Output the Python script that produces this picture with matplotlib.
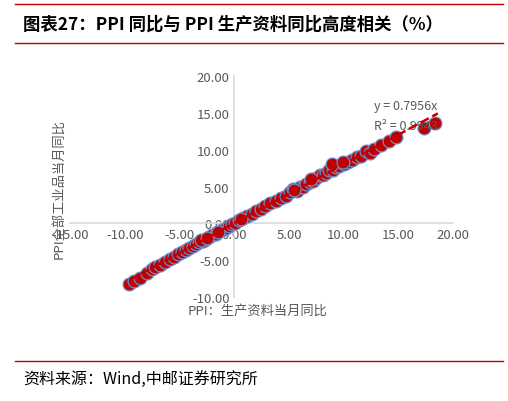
import matplotlib
matplotlib.use("Agg")
import matplotlib.pyplot as plt
import numpy as np

plt.rcParams['font.family'] = ['Noto Sans CJK SC', 'DejaVu Sans']

# PPI producer goods YoY (x) vs PPI all industrial YoY (y)
ppi_prod = [-9.6, -9.2, -8.6, -8.0, -7.5, -7.2, -6.8, -6.3, -5.9, -5.5, -5.1, -4.8,
            -4.4, -4.1, -3.8, -3.5, -3.2, -2.9, -2.6, -2.3, -2.0, -1.7, -1.4, -1.1,
            -0.8, -0.5, -0.2, 0.1, 0.4, 0.8, 1.2, 1.6, 2.0, 2.4, 2.8, 3.3, 3.8, 4.3,
            4.7, 5.1, 5.4, 5.7, 6.0, 6.3, 6.6, 6.9, 7.2, 7.5, 7.8, 8.1, 8.4, 8.7,
            9.0, 9.3, 9.6, 10.0, 10.4, 10.8, 11.2, 11.6, 12.0, 12.4, 12.8, 13.4,
            14.1, 14.8, 17.3, 18.3, -3.0, -2.5, -1.5, 0.6, 5.5, 7.0, 8.9, 9.9]
ppi_all = [-8.2, -7.9, -7.4, -6.8, -6.2, -5.9, -5.6, -5.2, -4.8, -4.6, -4.2, -3.9,
           -3.6, -3.4, -3.1, -2.8, -2.6, -2.4, -2.1, -1.9, -1.6, -1.4, -1.1, -0.9,
           -0.6, -0.4, -0.1, 0.1, 0.4, 0.7, 1.0, 1.3, 1.7, 2.0, 2.3, 2.7, 3.0, 3.4,
           3.7, 4.2, 4.7, 4.4, 4.9, 5.0, 5.3, 5.6, 5.8, 6.2, 6.5, 6.6, 6.9, 7.2,
           7.3, 7.6, 7.8, 8.0, 8.3, 8.6, 9.0, 9.2, 9.8, 9.6, 10.1, 10.7, 11.2,
           11.7, 13.0, 13.6, -2.2, -2.0, -1.2, 0.6, 4.5, 6.0, 8.0, 8.3]

fig = plt.figure(figsize=(5.08, 4.02), dpi=100)
ax = fig.add_axes([0.138, 0.259, 0.754, 0.549])

ax.scatter(ppi_prod, ppi_all, s=85, color="#C00000", edgecolors="#6A8FCB",
           linewidths=0.9, zorder=3)

x = np.array(ppi_prod)
slope = (x @ np.array(ppi_all)) / (x @ x)
xs = np.array([min(ppi_prod), max(ppi_prod) + 0.3])
ax.plot(xs, slope * xs, color="#C00000", linestyle="--", linewidth=1.8, zorder=4)

ax.set_xlim(-15, 20)
ax.set_ylim(-10, 20)
ax.set_xticks(np.arange(-15, 21, 5))
ax.set_yticks(np.arange(-10, 21, 5))
ax.set_xticklabels([f"{v:.2f}" for v in np.arange(-15, 21, 5)])
ax.set_yticklabels([f"{v:.2f}" for v in np.arange(-10, 21, 5)])
for s in ["top", "right"]:
    ax.spines[s].set_visible(False)
ax.spines["left"].set_position(("data", 0))
ax.spines["bottom"].set_position(("data", 0))
for s in ["left", "bottom"]:
    ax.spines[s].set_color("#D9D9D9")
    ax.spines[s].set_linewidth(1.2)
ax.tick_params(length=0, labelsize=9.5, colors="#595959")

ax.text(12.8, 15.6, "y = 0.7956x", fontsize=9, color="#595959")
ax.text(12.8, 12.8, "R² = 0.9943", fontsize=9, color="#595959")

fig.text(0.116, 0.53, "PPI全部工业品当月同比", rotation=90, ha="center", va="center",
         fontsize=9.5, color="#595959")
fig.text(0.37, 0.225, "PPI：生产资料当月同比", ha="left", va="center",
         fontsize=9.5, color="#595959")

fig.add_artist(plt.Line2D([0.03, 0.99], [0.987, 0.987], color="#C00000", linewidth=1))
fig.add_artist(plt.Line2D([0.03, 0.99], [0.89, 0.89], color="#C00000", linewidth=1))
fig.text(0.045, 0.94, "图表27：PPI 同比与 PPI 生产资料同比高度相关（%）", fontsize=12.5,
         fontweight="bold", va="center")
fig.add_artist(plt.Line2D([0.03, 0.99], [0.1, 0.1], color="#C00000", linewidth=1))
fig.text(0.045, 0.055, "资料来源：Wind,中邮证券研究所", fontsize=11.5, va="center")

fig.savefig("out.png", dpi=100)
